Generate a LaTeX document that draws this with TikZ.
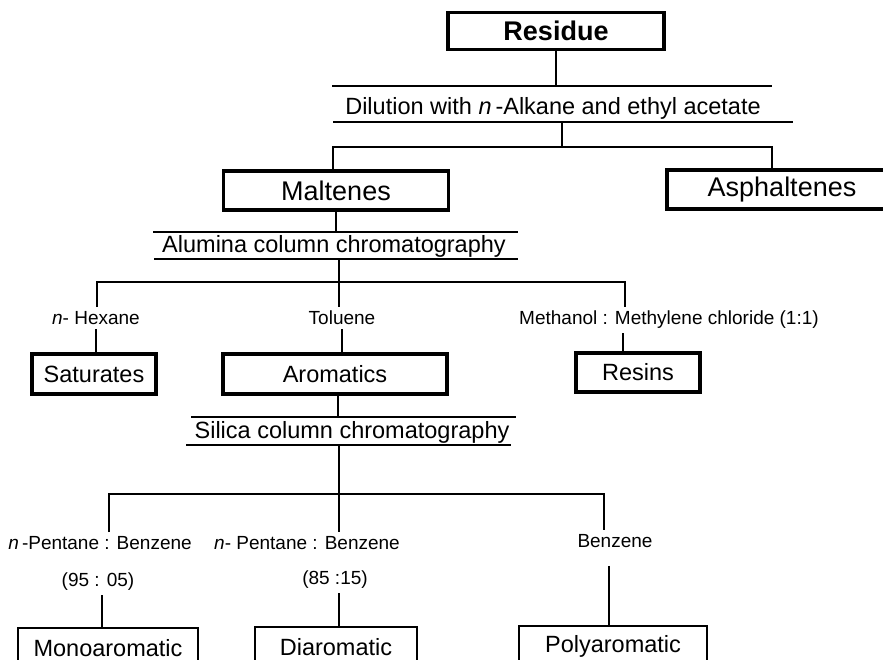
\documentclass[tikz,border=0pt]{standalone}
\usepackage{fontspec}
\setmainfont{Liberation Sans}
\usepackage{tikz}

\begin{document}
\begin{tikzpicture}[x=1pt, y=-1pt,
    thickbox/.style={draw, line width=3.2pt, inner sep=0pt, font=\fontsize{23.5}{26}\selectfont},
    thinbox/.style={draw, line width=1.6pt, inner sep=0pt, font=\fontsize{23.5}{26}\selectfont},
    steptext/.style={inner sep=1pt, font=\fontsize{23.5}{26}\selectfont},
    solvent/.style={inner sep=4pt, font=\fontsize{19}{22}\selectfont},
    stepline/.style={line width=1.5pt},
    conn/.style={line width=1.5pt}]
    \useasboundingbox (0,0) rectangle (883,660);
    \clip (0,0) rectangle (883,660);

    % Residue - dilution step
    \node[thickbox, minimum width=216pt, minimum height=37pt, font=\fontsize{27}{30}\selectfont\bfseries] (res) at (556,31) {Residue};
    \node[steptext] (dil) at (553,108) {Dilution with \textit{n}\,-Alkane and ethyl acetate};
    \draw[stepline] (332,86) -- (772,86);
    \draw[stepline] (333,122) -- (793,122);
    \coordinate (dilT) at (556,86);
    \coordinate (dilB) at (562,122);
    \coordinate (dilS) at (562,147);

    % Maltenes and Asphaltenes
    \node[thickbox, minimum width=225pt, minimum height=39pt, font=\fontsize{27}{30}\selectfont] (malt) at (336,190.5) {Maltenes};
    \node[thickbox, minimum width=230pt, minimum height=39pt, font=\fontsize{27}{30}\selectfont] (asph) at (782,189.5) {Asphaltenes};
    \draw[conn] (res.south) -- (dilT);
    \draw[conn] (dilB) -- (dilS);
    \draw[conn] ([xshift=-3pt]malt.north) |- (dilS) -| ([xshift=-10pt]asph.north);

    % Alumina column chromatography
    \node[steptext] (alu) at (334,246) {Alumina column chromatography};
    \draw[stepline] (153,232) -- (518,232);
    \draw[stepline] (154,259) -- (518,259);
    \coordinate (aluT) at (336,232);
    \coordinate (aluB) at (339,259);
    \coordinate (aluS) at (339,282);
    \draw[conn] (malt.south) -- (aluT);
    \draw[conn] (aluB) -- (aluS);

    % Eluents on alumina
    \node[solvent] (hex) at (96,318) {\textit{n}- Hexane};
    \node[solvent] (tol) at (342,318) {Toluene};
    \node[solvent] (meth) at (669,320) {Methanol : Methylene chloride (1:1)};
    \coordinate (hexT) at ([xshift=1pt]hex.north);
    \coordinate (methT) at ([xshift=-44pt]meth.north);
    \coordinate (methD) at ([xshift=-46pt]meth.south);
    \draw[conn] (hexT) |- (aluS) -| (methT);
    \draw[conn] (aluS) -- (aluS |- tol.north);

    % Saturates, Aromatics, Resins
    \node[thickbox, minimum width=124pt, minimum height=40pt] (sat) at (94,374) {Saturates};
    \node[thickbox, minimum width=224pt, minimum height=40pt] (arom) at (335,374) {Aromatics};
    \node[thickbox, minimum width=124pt, minimum height=39pt] (resin) at (638,372.5) {Resins};
    \draw[conn] (hex.south) -- (hex.south |- sat.north);
    \draw[conn] (tol.south) -- (tol.south |- arom.north);
    \draw[conn] (methD) -- (methD |- resin.north);

    % Silica column chromatography
    \node[steptext] (sil) at (352,432) {Silica column chromatography};
    \draw[stepline] (191,417) -- (516,417);
    \draw[stepline] (186,445) -- (511,445);
    \coordinate (silT) at (338,417);
    \coordinate (silB) at (339,445);
    \coordinate (silS) at (339,494);
    \draw[conn] (arom.south -| silT) -- (silT);

    % Eluents on silica
    \node[solvent] (pentA) at (100,543) {\textit{n}\,-Pentane : Benzene};
    \node[solvent] (ratioA) at (98,582) {(95 : 05)};
    \node[solvent] (pentB) at (307,543) {\textit{n}- Pentane : Benzene};
    \node[solvent] (ratioB) at (335,580) {(85 :15)};
    \node[solvent] (benz) at (615,541) {Benzene};
    \coordinate (pentAT) at ([xshift=9pt]pentA.north);
    \coordinate (benzT) at ([xshift=-11pt]benz.north);
    \draw[conn] (pentAT) |- (silS) -| (benzT);
    \draw[conn] (silB) -- (silS |- pentB.north);

    % Mono-, Di-, Polyaromatic
    \node[thinbox, minimum width=180pt, minimum height=40pt] (mono) at (108,648) {Monoaromatic};
    \node[thinbox, minimum width=162pt, minimum height=40pt] (diar) at (336,647) {Diaromatic};
    \node[thinbox, minimum width=188pt, minimum height=40pt] (poly) at (613,646) {Polyaromatic};
    \coordinate (ratioAD) at ([xshift=4pt]ratioA.south);
    \coordinate (ratioBD) at ([xshift=4pt]ratioB.south);
    \coordinate (benzD) at ([xshift=-6pt, yshift=-14pt]benz.south);
    \draw[conn] (ratioAD) -- (ratioAD |- mono.north);
    \draw[conn] (ratioBD) -- (ratioBD |- diar.north);
    \draw[conn] (benzD) -- (benzD |- poly.north);
\end{tikzpicture}
\end{document}
